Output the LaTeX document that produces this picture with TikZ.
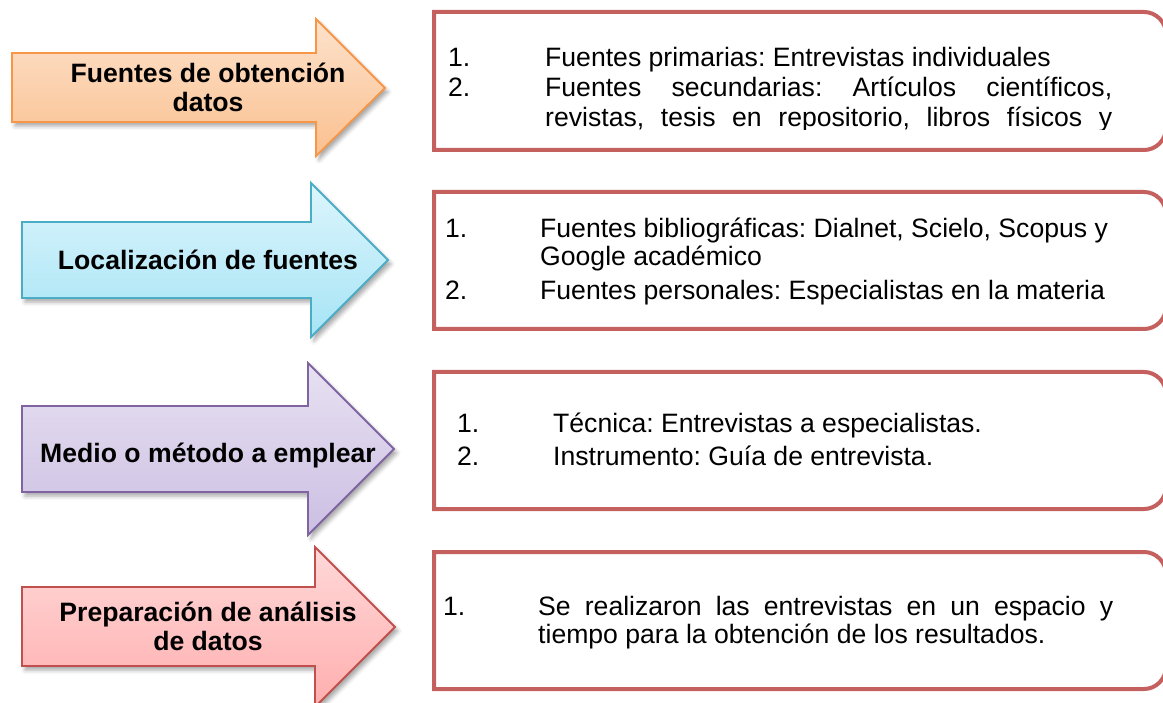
\documentclass[tikz,border=0pt]{standalone}
\usepackage{fontspec}
\setmainfont{Liberation Sans}
\usetikzlibrary{shadows.blur}
\definecolor{orangeline}{HTML}{F79646}
\definecolor{orangetop}{HTML}{FDE2CC}
\definecolor{orangebot}{HTML}{FAC08F}
\definecolor{blueline}{HTML}{4BACC6}
\definecolor{bluetop}{HTML}{DCF5FC}
\definecolor{bluebot}{HTML}{A6E4F6}
\definecolor{purpleline}{HTML}{8064A2}
\definecolor{purpletop}{HTML}{E7E1F1}
\definecolor{purplebot}{HTML}{CCBFE3}
\definecolor{pinkline}{HTML}{C0504D}
\definecolor{pinktop}{HTML}{FFD8D8}
\definecolor{pinkbot}{HTML}{FFAEAE}
\definecolor{boxred}{HTML}{C4605D}
\newcommand{\itemsize}{\fontsize{26.6}{30}\selectfont}
\frenchspacing

\begin{document}
\begin{tikzpicture}[x=1pt,y=-1pt,
  arrowshape/.style={line width=1.8pt,line join=miter,
    blur shadow={shadow xshift=3pt,shadow yshift=-4pt,shadow blur radius=4pt,shadow opacity=35}},
  boxline/.style={draw=boxred,line width=4pt},
  arrowtext/.style={font=\bfseries\itemsize,inner sep=0pt,anchor=base},
  itemtext/.style={font=\itemsize,inner sep=0pt,anchor=base west}]
\useasboundingbox (0,0) rectangle (1163,703);

% block arrows
\draw[arrowshape,draw=orangeline,top color=orangetop,bottom color=orangebot]
  (12,53) -- (316,53) -- (316,19) -- (385,88) -- (316,156) -- (316,122) -- (12,122) -- cycle;
\draw[arrowshape,draw=blueline,top color=bluetop,bottom color=bluebot]
  (22,222) -- (311,222) -- (311,183) -- (388,260) -- (311,337) -- (311,298) -- (22,298) -- cycle;
\draw[arrowshape,draw=purpleline,top color=purpletop,bottom color=purplebot]
  (22,406) -- (308,406) -- (308,363) -- (394,449) -- (308,535) -- (308,492) -- (22,492) -- cycle;
\draw[arrowshape,draw=pinkline,top color=pinktop,bottom color=pinkbot]
  (22,587) -- (315,587) -- (315,547) -- (395,627) -- (315,707) -- (315,666) -- (22,666) -- cycle;

\node[arrowtext] (obtA) at (208,83) {Fuentes de obtención};
\node[arrowtext] (obtB) at (208,112) {datos};
\node[arrowtext] (loc) at (208,270) {Localización de fuentes};
\node[arrowtext] (medio) at (208,462) {Medio o método a emplear};
\node[arrowtext] (prepA) at (208,621) {Preparación de análisis};
\node[arrowtext] (prepB) at (208,650) {de datos};

% boxes
\draw[boxline] (434,150) -- (434,12) -- (1144,12) .. controls (1156,12) and (1166,22) .. (1166,34)
  -- (1166,128) .. controls (1166,140) and (1156,150) .. (1144,150) -- cycle;
\draw[boxline] (434,329) -- (434,192) -- (1144,192) .. controls (1156,192) and (1166,202) .. (1166,214)
  -- (1166,307) .. controls (1166,319) and (1156,329) .. (1144,329) -- cycle;
\draw[boxline] (434,509) -- (434,372) -- (1144,372) .. controls (1156,372) and (1166,382) .. (1166,394)
  -- (1166,487) .. controls (1166,499) and (1156,509) .. (1144,509) -- cycle;
\draw[boxline] (434,689) -- (434,552) -- (1144,552) .. controls (1156,552) and (1166,562) .. (1166,574)
  -- (1166,667) .. controls (1166,679) and (1156,689) .. (1144,689) -- cycle;

% box 1, text cut off at the bottom
\begin{scope}
\clip (437,15) rectangle (1160,130);
\node[itemtext] (numA1) at (448,67) {1.};
\node[itemtext] (fuenA1) at (545,67) {Fuentes primarias: Entrevistas individuales};
\node[itemtext] (numA2) at (448,97) {2.};
\node[itemtext] (fuenA2) at (545,97) {\makebox[567pt][s]{Fuentes secundarias: Artículos científicos,}};
\node[itemtext] (fuenA3) at (545,127) {\makebox[567pt][s]{revistas, tesis en repositorio, libros físicos y}};
\end{scope}

% box 2
\node[itemtext] (numB1) at (445,238) {1.};
\node[itemtext] (fuenB1) at (540,238) {Fuentes bibliográficas: Dialnet, Scielo, Scopus y};
\node[itemtext] (fuenB2) at (540,266) {Google académico};
\node[itemtext] (numB2) at (445,300) {2.};
\node[itemtext] (fuenB3) at (540,300) {Fuentes personales: Especialistas en la materia};

% box 3
\node[itemtext] (numC1) at (457,433) {1.};
\node[itemtext] (tecC1) at (553,433) {Técnica: Entrevistas a especialistas.};
\node[itemtext] (numC2) at (457,466) {2.};
\node[itemtext] (insC2) at (553,466) {Instrumento: Guía de entrevista.};

% box 4
\node[itemtext] (numD1) at (443,615) {1.};
\node[itemtext] (prepD1) at (538,615) {\makebox[575pt][s]{Se realizaron las entrevistas en un espacio y}};
\node[itemtext] (prepD2) at (538,643) {tiempo para la obtención de los resultados.};
\end{tikzpicture}
\end{document}
